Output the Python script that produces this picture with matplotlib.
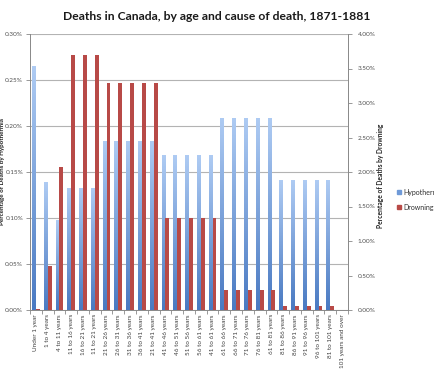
import matplotlib
matplotlib.use("Agg")
import matplotlib.pyplot as plt
import numpy as np
from matplotlib.ticker import FuncFormatter, FixedLocator
from matplotlib.colors import LinearSegmentedColormap

plt.rcParams['font.family'] = ['Lato', 'DejaVu Sans']

categories = ["Under 1 year", "1 to 4 years", "4 to 11 years", "11 to 16 years",
              "16 to 21 years", "11 to 21 years", "21 to 26 years", "26 to 31 years",
              "31 to 36 years", "36 to 41 years", "21 to 41 years", "41 to 46 years",
              "46 to 51 years", "51 to 56 years", "56 to 61 years", "41 to 61 years",
              "61 to 66 years", "66 to 71 years", "71 to 76 years", "76 to 81 years",
              "61 to 81 years", "81 to 86 years", "86 to 91 years", "91 to 96 years",
              "96 to 101 years", "81 to 101 years", "101 years and over"]
hypothermia = [0.265, 0.139, 0.098, 0.133, 0.133, 0.133, 0.184, 0.184, 0.184, 0.184,
               0.184, 0.168, 0.168, 0.168, 0.168, 0.168, 0.209, 0.209, 0.209, 0.209,
               0.209, 0.141, 0.141, 0.141, 0.141, 0.141, 0.0]
drowning = [0.015, 0.64, 2.07, 3.70, 3.70, 3.70, 3.29, 3.29, 3.29, 3.29, 3.29,
            1.33, 1.33, 1.33, 1.33, 1.33, 0.29, 0.29, 0.29, 0.29, 0.29,
            0.06, 0.06, 0.06, 0.06, 0.06, 0.0]
left_ticks = [0.0, 0.05, 0.10, 0.15, 0.20, 0.25, 0.30]
right_ticks = [0.0, 0.5, 1.0, 1.5, 2.0, 2.5, 3.0, 3.5, 4.0]

W, H = 435, 375
fig = plt.figure(figsize=(W / 100, H / 100), dpi=100)
L, R, T, B = 30, 348, 34, 310
ax = fig.add_axes([L / W, 1 - B / H, (R - L) / W, (B - T) / H])
ax2 = ax.twinx()

x = np.arange(len(categories))
bw = 0.33
blue_dark = "#4a7ac2"
blue_light = "#aecbf3"
red = "#b84a47"

bars = ax.bar(x - bw / 2, hypothermia, width=bw, color=blue_dark, zorder=2, linewidth=0)
cmap = LinearSegmentedColormap.from_list("g", [blue_dark, blue_light])
grad = np.linspace(1, 0, 100).reshape(-1, 1)
for rect in bars:
    h = rect.get_height()
    if h <= 0:
        continue
    x0 = rect.get_x()
    im = ax.imshow(grad, extent=[x0, x0 + rect.get_width(), 0, h], aspect="auto",
                   cmap=cmap, zorder=3, origin="upper")
    im.set_clip_path(rect)

ax2.bar(x + bw / 2, drowning, width=bw, color=red, zorder=2, linewidth=0)

ax.set_xlim(-0.5, len(categories) - 0.5)
ax.set_ylim(0, 0.30)
ax2.set_ylim(0, 4.0)

ax.yaxis.set_major_locator(FixedLocator(left_ticks))
ax2.yaxis.set_major_locator(FixedLocator(right_ticks))
ax.yaxis.set_major_formatter(FuncFormatter(lambda v, p: f"{v:.2f}%"))
ax2.yaxis.set_major_formatter(FuncFormatter(lambda v, p: f"{v:.2f}%"))
ax.grid(axis="y", color="#b3b3b3", linewidth=0.8, zorder=0)
ax.set_axisbelow(True)

ax.set_xticks(x)
ax.set_xticklabels(categories, rotation=90, fontsize=4.6, color="#404040")
ax.set_xticks(np.arange(-0.5, len(categories), 1), minor=True)
ax.tick_params(axis="x", which="major", length=0, pad=3)
ax.tick_params(axis="x", which="minor", length=3, color="#888888", width=0.6)
ax.tick_params(axis="y", labelsize=4.6, labelcolor="#505050", length=3,
               color="#888888", width=0.6, pad=2)
ax2.tick_params(axis="y", labelsize=4.6, labelcolor="#505050", length=3,
                color="#888888", width=0.6, pad=4)

for a in (ax, ax2):
    for s in a.spines.values():
        s.set_visible(False)
ax.spines["left"].set_visible(True)
ax.spines["left"].set_color("#888888")
ax.spines["left"].set_linewidth(0.7)
ax.spines["bottom"].set_visible(True)
ax.spines["bottom"].set_color("#888888")
ax.spines["bottom"].set_linewidth(0.7)
ax2.spines["right"].set_visible(True)
ax2.spines["right"].set_color("#888888")
ax2.spines["right"].set_linewidth(0.7)

fig.text(217 / W, 1 - 17 / H, "Deaths in Canada, by age and cause of death, 1871-1881",
         ha="center", va="center", fontsize=8.7, fontweight="bold", color="#1a1a1a")
fig.text(2.5 / W, 1 - 172 / H, "Percentage of Deaths by Hypothermia", rotation=90,
         ha="center", va="center", fontsize=4.5, fontweight="bold", color="#222222")
fig.text(381 / W, 1 - 176 / H, "Percentage of Deaths by Drowning", rotation=90,
         ha="center", va="center", fontsize=4.8, fontweight="bold", color="#222222")

# legend
for yy, col, lab in [(192, "#6f9ad8", "Hypothermia"), (207, red, "Drowning")]:
    fig.patches.append(plt.Rectangle(((397) / W, 1 - (yy + 2) / H), 4 / W, 4 / H,
                                     transform=fig.transFigure, color=col))
    fig.text(403.5 / W, 1 - yy / H, lab, ha="left", va="center", fontsize=5.0,
             color="#303030")

fig.savefig("out.png", dpi=100)
